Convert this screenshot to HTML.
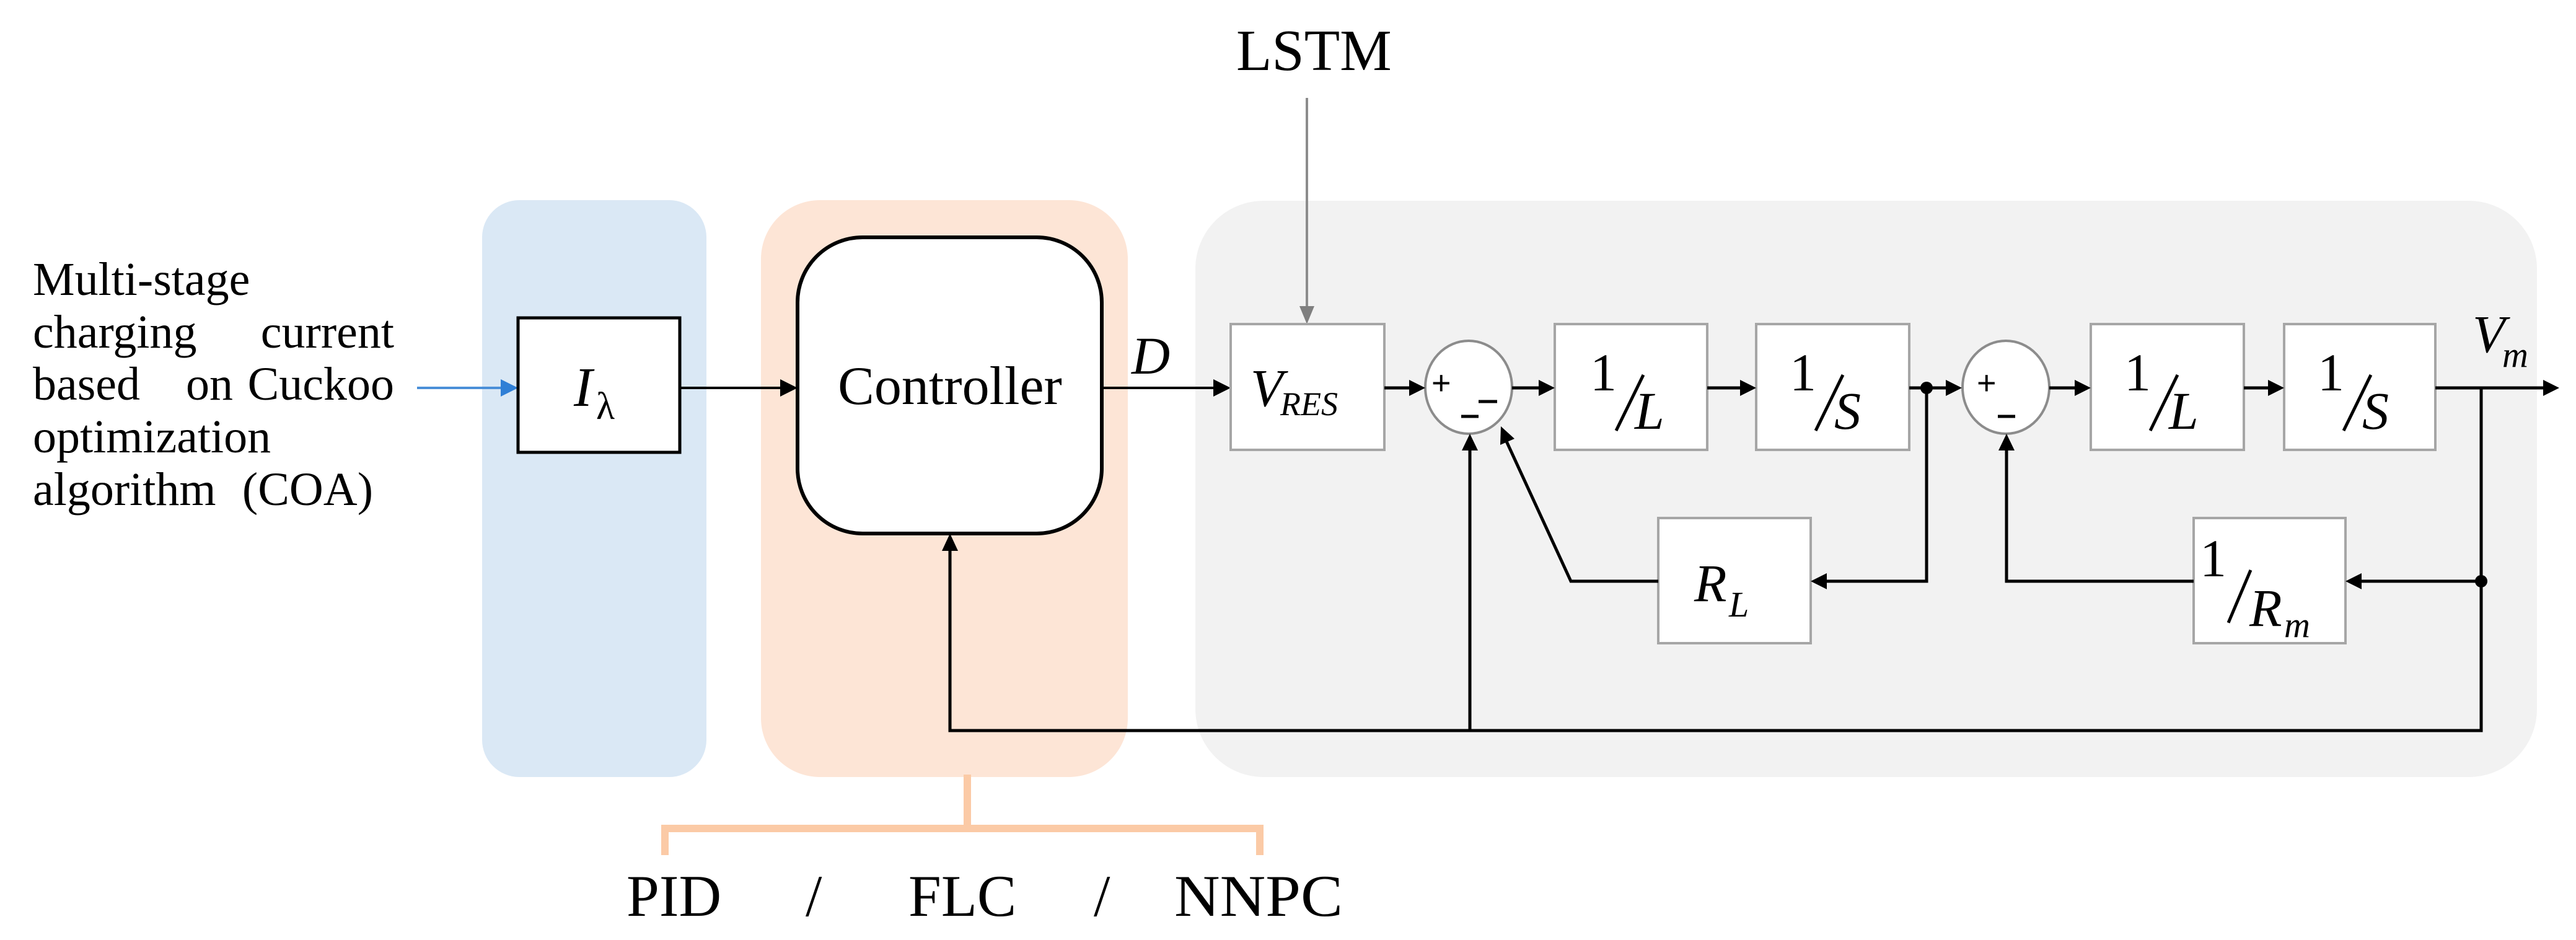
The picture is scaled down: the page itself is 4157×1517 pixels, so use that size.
<!DOCTYPE html>
<html><head><meta charset="utf-8"><style>
html,body{margin:0;padding:0;background:#fff;}
svg{display:block;}
text{font-family:"Liberation Serif",serif;fill:#000;}
.it{font-style:italic;}
</style></head><body>
<svg width="4157" height="1517" viewBox="0 0 4157 1517" xmlns="http://www.w3.org/2000/svg">
<!-- panels -->
<rect x="778" y="323" width="362" height="931" rx="60" fill="#dae8f5"/>
<rect x="1228" y="323" width="592" height="931" rx="95" fill="#fde5d6"/>
<rect x="1929" y="324" width="2165" height="930" rx="110" fill="#f2f2f2"/>

<!-- left text -->
<g font-size="76">
<text x="53" y="476">Multi-stage</text>
<text x="53" y="561">charging</text>
<text x="636" y="561" text-anchor="end">current</text>
<text x="53" y="645">based</text>
<text x="300" y="645">on</text>
<text x="636" y="645" text-anchor="end">Cuckoo</text>
<text x="53" y="730">optimization</text>
<text x="53" y="815">algorithm</text>
<text x="602" y="815" text-anchor="end">(COA)</text>
</g>

<!-- blue arrow -->
<line x1="673" y1="626" x2="812" y2="626" stroke="#4a8fd8" stroke-width="4"/>
<polygon points="836,626 808,612 808,640" fill="#2f7fd6"/>

<!-- I lambda box -->
<rect x="836" y="513" width="261" height="217" fill="#fff" stroke="#000" stroke-width="5"/>
<text x="926" y="655" font-size="90" class="it">I</text>
<text x="962" y="676" font-size="62">λ</text>

<!-- arrow to controller -->
<line x1="1097" y1="626" x2="1262" y2="626" stroke="#000" stroke-width="4"/>
<polygon points="1287,626 1259,612 1259,640" fill="#000"/>

<!-- controller -->
<rect x="1287" y="383" width="491" height="478" rx="105" fill="#fff" stroke="#000" stroke-width="6"/>
<text x="1533" y="652" font-size="88" text-anchor="middle">Controller</text>

<!-- D -->
<text x="1826" y="603" font-size="86" class="it">D</text>
<line x1="1778" y1="626" x2="1962" y2="626" stroke="#000" stroke-width="4"/>
<polygon points="1986,626 1958,612 1958,640" fill="#000"/>

<!-- LSTM -->
<text x="1995" y="113" font-size="94">LSTM</text>
<line x1="2109" y1="158" x2="2109" y2="500" stroke="#8c8c8c" stroke-width="4"/>
<polygon points="2109,523 2097,494 2121,494" fill="#7f7f7f"/>

<!-- blocks -->
<g fill="#fff" stroke="#a6a6a6" stroke-width="4">
<rect x="1986" y="523" width="248" height="203"/>
<rect x="2509" y="523" width="246" height="203"/>
<rect x="2834" y="523" width="247" height="203"/>
<rect x="3374" y="523" width="247" height="203"/>
<rect x="3686" y="523" width="244" height="203"/>
<rect x="2676" y="836" width="246" height="202"/>
<rect x="3540" y="836" width="245" height="202"/>
<ellipse cx="2370" cy="625" rx="70" ry="75" stroke="#8c8c8c"/>
<ellipse cx="3237" cy="625" rx="70" ry="75" stroke="#8c8c8c"/>
</g>

<!-- block labels -->
<text x="2018" y="655" font-size="86" class="it">V</text>
<text x="2066" y="670" font-size="54" class="it">RES</text>

<g font-size="86">
<text x="2566" y="630">1</text>
<line x1="2652" y1="605" x2="2608" y2="695" stroke="#000" stroke-width="5"/>
<text x="2638" y="692" class="it">L</text>

<text x="2888" y="630">1</text>
<line x1="2974" y1="605" x2="2930" y2="695" stroke="#000" stroke-width="5"/>
<text x="2960" y="692" class="it">S</text>

<text x="3428" y="630">1</text>
<line x1="3514" y1="605" x2="3470" y2="695" stroke="#000" stroke-width="5"/>
<text x="3500" y="692" class="it">L</text>

<text x="3740" y="630">1</text>
<line x1="3826" y1="605" x2="3782" y2="695" stroke="#000" stroke-width="5"/>
<text x="3812" y="692" class="it">S</text>

<text x="2734" y="970" class="it">R</text>
<text x="2790" y="995" font-size="58" class="it">L</text>

<text x="3550" y="930">1</text>
<line x1="3632" y1="920" x2="3596" y2="1005" stroke="#000" stroke-width="5"/>
<text x="3630" y="1010" class="it">R</text>
<text x="3686" y="1028" font-size="58" class="it">m</text>

<text x="3990" y="568" class="it">V</text>
<text x="4038" y="592" font-size="58" class="it">m</text>
</g>

<!-- sum signs -->
<g font-size="54" style="font-family:'Liberation Sans',sans-serif">
<text x="2310" y="636" style="font-family:'Liberation Sans',sans-serif">+</text>
<text x="3190" y="636" style="font-family:'Liberation Sans',sans-serif">+</text>
</g>
<line x1="2386" y1="648" x2="2416" y2="648" stroke="#000" stroke-width="5"/>
<line x1="2358" y1="672" x2="2386" y2="672" stroke="#000" stroke-width="5"/>
<line x1="3224" y1="672" x2="3252" y2="672" stroke="#000" stroke-width="5"/>

<!-- main path lines -->
<g stroke="#000" stroke-width="5" fill="none">
<line x1="2234" y1="626" x2="2278" y2="626"/>
<line x1="2440" y1="626" x2="2486" y2="626"/>
<line x1="2755" y1="626" x2="2812" y2="626"/>
<line x1="3081" y1="626" x2="3144" y2="626"/>
<line x1="3307" y1="626" x2="3352" y2="626"/>
<line x1="3621" y1="626" x2="3664" y2="626"/>
<line x1="3930" y1="626" x2="4108" y2="626"/>
<polyline points="3109,626 3109,938 2946,938"/>
<polyline points="2676,938 2535,938 2430,710"/>
<polyline points="4004,626 4004,1179 1533,1179 1533,886"/>
<line x1="2372" y1="1179" x2="2372" y2="724"/>
<line x1="4004" y1="938" x2="3808" y2="938"/>
<polyline points="3540,938 3238,938 3238,724"/>
</g>
<g fill="#000">
<polygon points="2300,626 2274,613 2274,639"/>
<polygon points="2509,626 2483,613 2483,639"/>
<polygon points="2834,626 2808,613 2808,639"/>
<polygon points="3166,626 3140,613 3140,639"/>
<polygon points="3374,626 3348,613 3348,639"/>
<polygon points="3686,626 3660,613 3660,639"/>
<polygon points="4130,626 4104,613 4104,639"/>
<polygon points="2922,938 2948,925 2948,951"/>
<polygon points="3785,938 3811,925 3811,951"/>
<polygon points="2372,700 2359,727 2385,727"/>
<polygon points="3238,700 3225,727 3251,727"/>
<polygon points="1533,861 1520,889 1546,889"/>
<polygon points="2422,688 2421,718 2444,708"/>
<circle cx="3109" cy="626" r="10"/>
<circle cx="4004" cy="938" r="10"/>
</g>

<!-- bottom bracket -->
<g stroke="#fbcaa6" stroke-width="12" fill="none">
<line x1="1561" y1="1250" x2="1561" y2="1337"/>
<polyline points="1073,1380 1073,1337 2033,1337 2033,1380"/>
</g>
<g font-size="95">
<text x="1011" y="1478">PID</text>
<text x="1300" y="1478">/</text>
<text x="1466" y="1478">FLC</text>
<text x="1765" y="1478">/</text>
<text x="1895" y="1478" textLength="272" lengthAdjust="spacingAndGlyphs">NNPC</text>
</g>
</svg>
</body></html>
